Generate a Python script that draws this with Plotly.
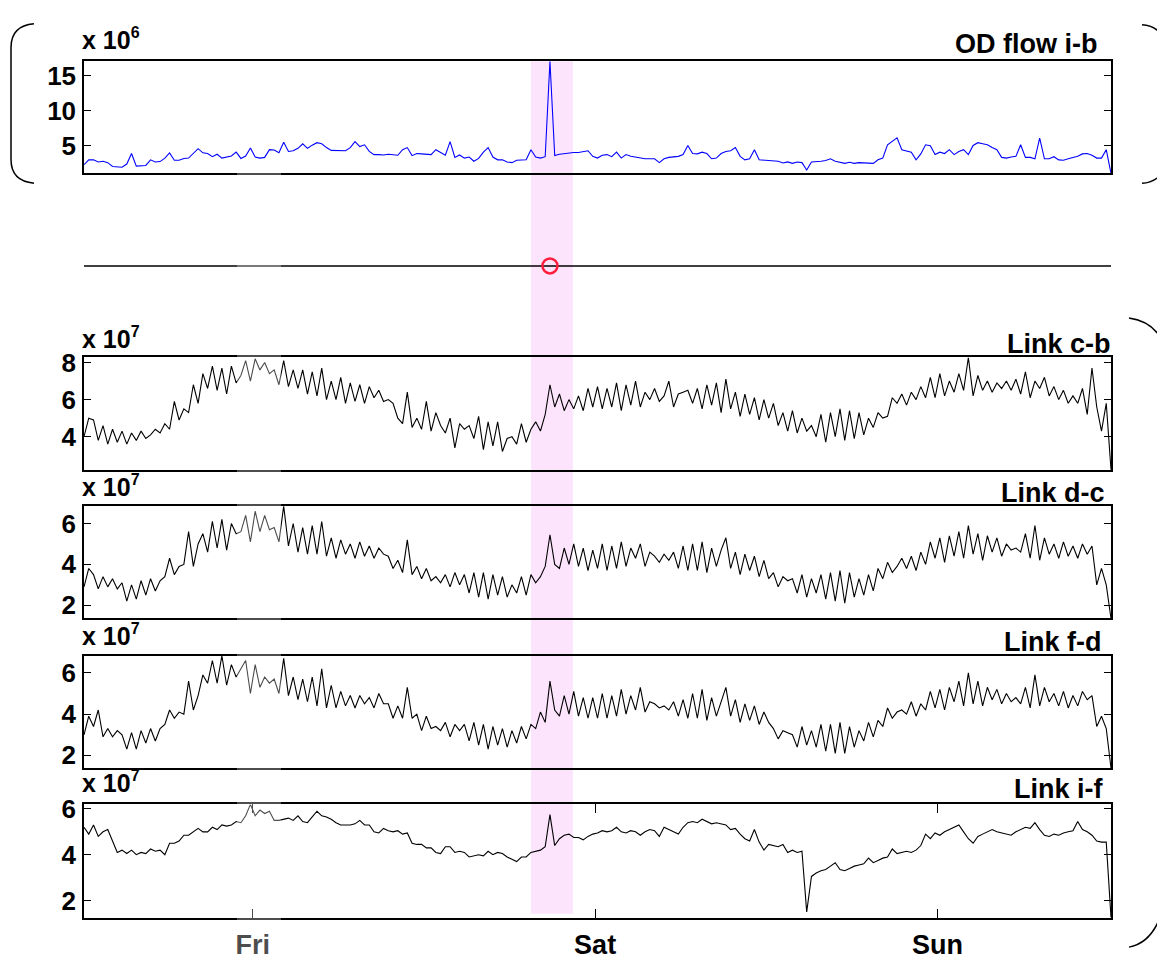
import numpy as np
import plotly.graph_objects as go

W, H = 1157, 960

# ---------------- data ----------------
# samples every 20 minutes, time in days relative to Friday 00:00
start_day = -35.5 / 72
step_day = 1 / 72

od_flow_ib = [  # x 10^6
    2.3, 3.0, 3.0, 2.7, 2.8, 2.6, 2.05, 1.95, 1.95, 2.4,
    3.9, 2.1, 2.1, 2.2, 3.0, 2.7, 2.75, 3.25, 4.0, 2.95,
    2.95, 3.2, 3.25, 3.9, 4.6, 4.0, 3.9, 3.45, 3.8, 3.25,
    3.45, 3.55, 4.1, 3.2, 3.55, 4.7, 3.4, 3.25, 3.35, 4.45,
    4.4, 4.0, 5.5, 4.2, 4.3, 4.65, 5.3, 4.65, 5.1, 5.45,
    5.3, 4.75, 4.35, 4.3, 4.25, 4.3, 4.75, 5.6, 4.9, 5.15,
    4.2, 3.75, 3.75, 3.7, 3.8, 3.7, 3.65, 4.45, 4.75, 3.6,
    3.9, 3.85, 3.75, 3.75, 4.45, 4.1, 3.65, 5.6, 3.35, 3.7,
    3.25, 3.4, 2.8, 3.2, 4.1, 4.75, 3.4, 3.0, 3.0, 2.7,
    2.6, 2.95, 2.95, 3.0, 4.45, 3.4, 3.25, 3.45, 17.1, 3.6,
    3.8, 3.9, 4.05, 4.05, 4.05, 4.2, 4.3, 3.5, 3.25, 3.65,
    3.75, 3.45, 4.1, 3.25, 3.75, 3.5, 3.35, 3.25, 3.15, 3.15,
    3.15, 2.6, 3.15, 3.35, 3.4, 3.5, 3.75, 5.05, 3.9, 3.85,
    4.1, 3.9, 3.15, 3.25, 3.9, 4.2, 4.3, 4.75, 3.5, 3.0,
    3.15, 4.45, 3.0, 2.95, 3.0, 2.9, 2.8, 2.55, 2.7, 2.5,
    2.7, 2.6, 1.55, 2.7, 2.7, 2.8, 2.9, 3.15, 2.8, 2.7,
    2.5, 2.65, 2.5, 2.6, 2.6, 2.6, 2.5, 3.0, 3.25, 5.15,
    5.7, 6.15, 4.45, 4.3, 4.1, 3.0, 3.85, 5.15, 5.0, 3.75,
    4.1, 3.9, 4.45, 3.75, 4.2, 4.45, 3.75, 5.05, 5.45, 5.3,
    5.15, 4.75, 4.45, 3.35, 3.25, 3.4, 3.5, 5.15, 3.35, 3.35,
    3.15, 6.1, 3.15, 3.15, 3.45, 3.0, 2.95, 3.15, 3.35, 3.5,
    3.85, 3.9, 3.65, 3.25, 3.25, 4.45, 1.06,
]

link_cb = [  # x 10^7
    4.0, 5.0, 4.9, 3.8, 4.6, 3.6, 4.4, 3.7, 4.3,
    3.6, 4.2, 3.8, 4.3, 3.9, 4.1,
    4.4, 4.2, 4.7,
    4.4, 5.9, 4.9, 5.5, 5.3, 6.8,
    5.8, 7.4, 6.6, 7.8, 6.5, 7.7, 6.3, 7.8, 6.9,
    7.3, 8.1, 7.0, 8.2, 7.6, 8.0, 7.4, 7.6, 6.8,
    8.1, 6.7, 7.6, 6.6, 7.6, 6.3, 7.5, 6.2, 7.7, 6.0,
    7.0, 6.0, 7.2, 5.8, 6.9, 5.9, 6.8, 5.8, 6.7, 6.1, 6.5, 5.9,
    6.0, 5.8, 5.0, 4.7,
    6.4, 4.5, 5.0, 4.4, 5.9, 4.3, 5.3, 4.6,
    4.2, 5.0, 3.4, 4.7, 4.4, 4.6, 3.9, 5.1, 3.3,
    4.8, 3.5, 4.8, 3.2, 3.9, 4.0, 3.6, 4.7, 3.7,
    4.4, 4.8, 4.3, 5.2, 6.8, 5.6, 6.3, 5.4, 6.0, 5.5,
    6.2, 5.4, 6.6, 5.6, 6.7,
    5.5, 6.6, 5.6, 6.9, 5.4, 6.8, 5.7, 7.0, 5.6, 6.4, 6.0, 6.6, 5.9,
    6.2, 7.0, 5.6, 6.3, 6.4, 6.5, 5.8, 6.6, 5.5, 6.8, 5.7, 6.9, 5.3,
    7.1,
    5.5, 6.4, 5.1, 6.3, 5.2, 6.1, 4.9, 6.0, 5.0, 5.8,
    4.6, 5.3, 4.3, 5.4, 4.2, 5.0, 4.3, 4.6, 4.0,
    5.2, 3.7, 5.3, 4.0, 5.5, 3.8, 5.4, 3.9, 5.3, 4.1, 5.0, 4.5,
    5.3, 5.0, 5.1, 6.1,
    5.8, 6.3, 5.7, 6.4, 6.0, 6.7, 6.1,
    7.2, 6.1, 7.4, 6.2, 7.0, 6.4, 7.4, 6.5,
    8.27,
    6.2, 7.3, 6.5, 7.0, 6.4, 6.9, 6.6, 7.0, 6.5, 7.1, 6.3, 7.5, 6.1, 7.0, 6.6, 7.2, 6.2,
    6.7, 6.0, 6.5, 5.8, 6.2, 5.8, 6.6,
    5.2, 7.7, 5.6, 4.3, 5.8, 2.22,
]

link_dc = [  # x 10^7
    2.9, 3.8, 3.5, 2.8, 3.4, 2.9, 3.3, 2.8,
    3.1, 2.2, 3.0, 2.3, 3.2, 2.5, 3.3, 2.7, 3.2,
    3.4, 4.3, 3.5, 3.9, 4.0, 5.6, 3.9,
    5.0, 5.5, 4.6, 6.1, 4.8, 6.2, 4.7, 6.0, 5.5,
    5.6, 6.4, 5.1, 6.6, 5.6, 6.4, 5.7, 5.8, 5.1,
    6.85, 4.9, 6.0, 4.6, 5.8, 4.5, 5.9, 4.5, 6.1, 4.4,
    5.3, 4.3, 5.2, 4.5, 5.0, 4.3, 5.1, 4.4, 4.9, 4.3, 4.8, 4.5,
    4.4, 3.8, 4.2, 3.6, 5.2,
    3.5, 3.9, 3.3, 3.8, 3.2, 3.4, 3.1, 3.5,
    2.9, 3.6, 3.0, 3.5, 2.6, 3.6, 2.4, 3.6, 2.3, 3.5, 2.5, 3.4, 2.4, 3.0, 2.6, 3.4, 2.5,
    3.5, 3.1, 3.4, 3.9, 5.45, 4.0, 3.8, 4.8, 4.0, 5.0,
    3.9, 4.8, 3.7, 4.7, 3.8, 5.0, 3.7, 4.9, 3.8, 5.1,
    3.9, 4.8, 4.3, 5.0, 3.9, 4.6, 4.4, 4.1, 4.5, 4.2,
    4.6, 3.8, 4.9, 3.7, 5.0, 3.7, 5.1, 3.6, 4.8, 3.9, 4.7,
    5.3,
    3.8, 4.6, 3.5, 4.5, 3.7, 4.4, 3.4, 4.2, 3.3,
    3.6, 2.9, 3.4, 3.2, 3.3, 2.6, 3.5, 2.4, 3.3, 2.6,
    3.5, 2.3, 3.6, 2.2, 3.7, 2.1, 3.6, 2.4, 3.3, 2.5, 3.5, 2.7,
    3.8, 3.3, 4.1, 3.6, 3.9, 4.3, 3.8, 4.4, 3.7, 4.6, 4.0,
    5.1, 4.3, 5.3, 4.1, 5.4, 4.4, 5.6, 4.3, 5.9, 4.5,
    5.5, 4.2, 5.4, 4.6, 5.3, 4.4, 5.0, 4.7, 4.8, 4.6,
    5.5, 4.3, 5.9, 4.2, 5.3, 4.5, 5.0, 4.3, 5.1, 4.4,
    4.9, 4.3, 5.0, 4.5,
    4.9, 3.0, 3.8, 3.0, 1.36,
]

link_fd = [  # x 10^7
    3.0, 3.9, 3.4, 4.2, 2.9, 3.3, 2.9, 3.2,
    3.0, 2.3, 3.1, 2.3, 3.2, 2.6, 3.3, 2.7, 3.3,
    3.5, 4.2, 3.8, 4.1, 4.0, 5.6, 4.2,
    4.9, 5.9, 5.5, 6.6, 5.5, 6.83, 5.4, 6.4, 5.8,
    6.2, 6.6, 5.0, 6.4, 5.3, 5.8, 5.5, 5.7, 5.0,
    6.7, 4.9, 5.8, 4.7, 5.7, 4.6, 5.8, 4.4, 6.2, 4.3,
    5.4, 4.3, 5.1, 4.4, 4.9, 4.3, 4.9, 4.5, 4.8, 4.3, 5.0, 4.5,
    4.5, 3.8, 4.4, 3.8, 5.3,
    3.8, 4.0, 3.2, 3.9, 3.3, 3.4, 3.2, 3.6,
    2.9, 3.5, 3.2, 3.5, 2.7, 3.6, 2.5, 3.5, 2.3, 3.4, 2.5, 3.3, 2.4, 3.2, 2.6, 3.4, 2.8,
    3.5, 3.3, 4.1, 3.6, 5.6, 4.2, 3.9, 4.9, 4.0, 5.1,
    3.9, 4.8, 3.8, 4.8, 3.8, 5.0, 3.8, 4.9, 3.9, 5.2,
    4.0, 4.9, 4.2, 5.3, 4.1, 4.6, 4.5, 4.3, 4.4, 4.2,
    4.6, 3.9, 4.7, 3.8, 5.0, 3.8, 5.2, 3.7, 4.8, 3.9, 4.6,
    5.3,
    3.9, 4.7, 3.6, 4.5, 3.7, 4.4, 3.5, 4.1, 3.6,
    3.3, 2.8, 3.2, 3.1, 3.0, 2.4, 3.4, 2.5, 3.2, 2.4,
    3.5, 2.2, 3.5, 2.1, 3.6, 2.1, 3.4, 2.4, 3.2, 2.7, 3.6, 2.9,
    3.7, 3.4, 4.3, 3.8, 4.1, 4.2, 4.0, 4.6, 3.9, 4.5, 4.2,
    5.1, 4.3, 5.2, 4.2, 5.3, 4.6, 5.6, 4.4, 6.0, 4.5,
    5.6, 4.4, 5.3, 4.7, 5.2, 4.5, 5.0, 4.6, 4.8, 4.5,
    5.3, 4.3, 5.9, 4.4, 5.3, 4.6, 5.0, 4.4, 5.1, 4.3,
    4.9, 4.4, 5.1, 4.7,
    4.9, 3.4, 3.9, 3.3, 1.39,
]

link_if = [  # x 10^7
    5.2, 4.9, 5.3, 4.8, 5.0, 5.1, 4.6, 4.1, 4.2, 4.05,
    4.2, 4.0, 4.1, 4.05, 4.25, 4.15, 4.2, 4.0, 4.5, 4.5,
    4.6, 4.85, 4.85, 5.0, 5.15, 5.0, 5.0, 5.2, 5.1, 5.3,
    5.25, 5.3, 5.45, 5.4, 5.7, 6.2, 5.7, 5.95, 5.8, 5.9,
    5.5, 5.5, 5.55, 5.6, 5.5, 5.7, 5.45, 5.4, 5.65, 5.9,
    5.7, 5.65, 5.55, 5.4, 5.3, 5.3, 5.3, 5.35, 5.5, 5.3,
    5.3, 5.0, 4.95, 5.15, 5.05, 5.0, 5.05, 4.9, 4.95, 4.5,
    4.45, 4.45, 4.3, 4.3, 4.1, 4.05, 4.35, 4.35, 4.1, 4.15,
    4.1, 3.9, 3.95, 4.0, 3.95, 4.15, 4.0, 4.1, 4.05, 3.9,
    3.8, 3.7, 3.9, 3.9, 4.1, 4.15, 4.2, 4.35, 5.75, 4.4,
    4.7, 4.85, 4.9, 4.75, 4.75, 4.65, 4.8, 4.9, 4.95, 5.05,
    5.0, 5.05, 5.2, 5.0, 4.95, 5.05, 5.0, 4.85, 5.0, 5.1,
    5.05, 4.8, 5.2, 5.1, 5.0, 4.9, 5.2, 5.4, 5.45, 5.4,
    5.55, 5.45, 5.35, 5.4, 5.35, 5.3, 5.1, 5.15, 4.9, 4.7,
    4.6, 5.1, 4.55, 4.2, 4.45, 4.4, 4.35, 4.45, 4.1, 4.2,
    4.1, 4.15, 1.5, 3.05, 3.2, 3.3, 3.35, 3.5, 3.65, 3.35,
    3.3, 3.4, 3.5, 3.55, 3.6, 3.85, 3.65, 3.75, 3.85, 3.9,
    4.25, 4.05, 4.1, 4.15, 4.1, 4.2, 4.4, 4.9, 4.7, 4.95,
    4.85, 5.0, 5.1, 5.2, 5.3, 5.0, 4.7, 4.5, 4.8, 4.9,
    5.0, 5.1, 5.0, 4.95, 4.9, 4.85, 5.0, 5.1, 5.2, 5.15,
    5.4, 5.1, 4.85, 4.8, 4.9, 4.85, 4.95, 5.0, 5.05, 5.45,
    5.1, 5.0, 4.85, 4.6, 4.55, 4.55, 1.25,
]

event_index = 98                 # anomaly sample (red circle)
band_days = [0.8125, 0.935]      # highlighted interval
day_ticks = [0, 1, 2]
day_labels = ["Fri", "Sat", "Sun"]

panels = [
    dict(title="OD flow i-b", y=od_flow_ib, color="#0000ff", exp="6", ticks=[5, 10, 15],
         top=52, bottom=166, title_right=1097, title_base=45, exp_base=40),
    dict(title="Link c-b", y=link_cb, color="#000000", exp="7", ticks=[4, 6, 8],
         top=353, bottom=467, title_right=1111, title_base=350, exp_base=343),
    dict(title="Link d-c", y=link_dc, color="#000000", exp="7", ticks=[2, 4, 6],
         top=504, bottom=618, title_right=1105, title_base=501, exp_base=494),
    dict(title="Link f-d", y=link_fd, color="#000000", exp="7", ticks=[2, 4, 6],
         top=656, bottom=770, title_right=1101, title_base=652, exp_base=645),
    dict(title="Link i-f", y=link_if, color="#000000", exp="7", ticks=[2, 4, 6],
         top=807, bottom=922, title_right=1103, title_base=802, exp_base=795),
]

# ---------------- helpers ----------------
def px(x):
    return x / W

def py(y):
    return 1 - y / H

FONT = "Liberation Sans, Arial, Helvetica, sans-serif"
X_LEFT, X_RIGHT = 84, 1111

fig = go.Figure()
layout = dict(
    width=W, height=H,
    margin=dict(l=0, r=0, t=0, b=0),
    paper_bgcolor="white", plot_bgcolor="rgba(0,0,0,0)",
    showlegend=False,
    font=dict(family=FONT, color="black"),
)
annotations = []
shapes = []

for k, p in enumerate(panels):
    n = len(p["y"])
    t = start_day + step_day * np.arange(n)
    ax = "" if k == 0 else str(k + 1)
    fig.add_trace(go.Scatter(
        x=t, y=p["y"], mode="lines", xaxis="x" + ax, yaxis="y" + ax,
        line=dict(color=p["color"], width=1.1), hoverinfo="skip",
    ))
    last = (k == len(panels) - 1)
    xa = dict(
        domain=[px(X_LEFT), px(X_RIGHT)],
        range=[t[0], t[-1]],
        anchor="y" + ax,
        showgrid=False, zeroline=False,
        showline=True, linecolor="black", linewidth=1.5,
        mirror="ticks" if last else True,
        ticks="inside" if last else "",
        ticklen=9, tickwidth=1.2, tickcolor="black",
        showticklabels=last,
    )
    if last:
        xa.update(tickvals=day_ticks, ticktext=day_labels, ticklabelstandoff=2,
                  tickfont=dict(family=FONT, size=27, weight="bold", color="black"))
    if k > 0:
        xa["matches"] = "x"
    ya = dict(
        domain=[py(p["bottom"]), py(p["top"])],
        range=[min(p["y"]), max(p["y"])],
        anchor="x" + ax,
        showgrid=False, zeroline=False,
        showline=True, linecolor="black", linewidth=1.5, mirror="ticks",
        ticks="inside", ticklen=7, tickwidth=1.2, tickcolor="black",
        tickvals=p["ticks"], ticklabelstandoff=1,
        tickfont=dict(family=FONT, size=26, weight="bold", color="black"),
    )
    layout["xaxis" + ax] = xa
    layout["yaxis" + ax] = ya

    annotations.append(dict(
        text="x 10<sup><span style='font-size:16px'>%s</span></sup>" % p["exp"],
        xref="paper", yref="paper",
        x=px(80), y=py(p["exp_base"] + 7), xanchor="left", yanchor="bottom",
        showarrow=False, font=dict(family=FONT, size=25, weight="bold", color="black"),
    ))
    annotations.append(dict(
        text=p["title"], xref="paper", yref="paper",
        x=px(p["title_right"] + 2), y=py(p["title_base"] + 7), xanchor="right", yanchor="bottom",
        showarrow=False, font=dict(family=FONT, size=27, weight="bold", color="black"),
    ))

# event indicator line with the anomaly marker
n0 = len(od_flow_ib)
t0 = start_day + step_day * np.arange(n0)
fig.add_trace(go.Scatter(
    x=[t0[0], t0[-1]], y=[0, 0], mode="lines", xaxis="x6", yaxis="y6",
    line=dict(color="black", width=1.4), hoverinfo="skip",
))
fig.add_trace(go.Scatter(
    x=[t0[event_index]], y=[0], mode="markers", xaxis="x6", yaxis="y6",
    marker=dict(symbol="circle-open", size=15, color="#ff1f3d", line=dict(width=2.5)),
    hoverinfo="skip",
))
layout["xaxis6"] = dict(domain=[px(X_LEFT), px(X_RIGHT)], range=[t0[0], t0[-1]],
                        anchor="y6", visible=False, matches="x")
layout["yaxis6"] = dict(domain=[py(290), py(230)], range=[-1, 1], anchor="x6", visible=False)

# highlighted band
shapes.append(dict(type="rect", xref="x", yref="paper",
                   x0=band_days[0], x1=band_days[1], y0=py(918), y1=py(52),
                   fillcolor="#fde4fd", line=dict(width=0), layer="below"))
# light vertical overlay (scan artifact)
shapes.append(dict(type="rect", xref="paper", yref="paper",
                   x0=px(237), x1=px(281), y0=py(960), y1=py(162),
                   fillcolor="rgba(255,255,255,0.3)", line=dict(width=0), layer="above"))

# brackets
def path(cmds):
    out = []
    for c in cmds:
        if isinstance(c, str):
            out.append(c)
        else:
            out.append("%.5f,%.5f" % (px(c[0]), py(c[1])))
    return " ".join(out)

bracket_paths = [
    ["M", (34, 14), "Q", (11, 16), (11, 38), "L", (11, 152), "Q", (11, 174), (34, 176)],
    ["M", (1142, 15), "Q", (1153, 15.5), (1160, 23)],
    ["M", (1142, 176), "Q", (1153, 175.5), (1160, 168)],
    ["M", (1129, 313), "Q", (1150, 316), (1160, 332)],
    ["M", (1129, 952), "Q", (1150, 948), (1160, 922)],
]
for bp in bracket_paths:
    shapes.append(dict(type="path", xref="paper", yref="paper", path=path(bp),
                       line=dict(color="black", width=1.5)))

layout["annotations"] = annotations
layout["shapes"] = shapes
fig.update_layout(**layout)
fig.write_html("out.html", config={"displayModeBar": False})
